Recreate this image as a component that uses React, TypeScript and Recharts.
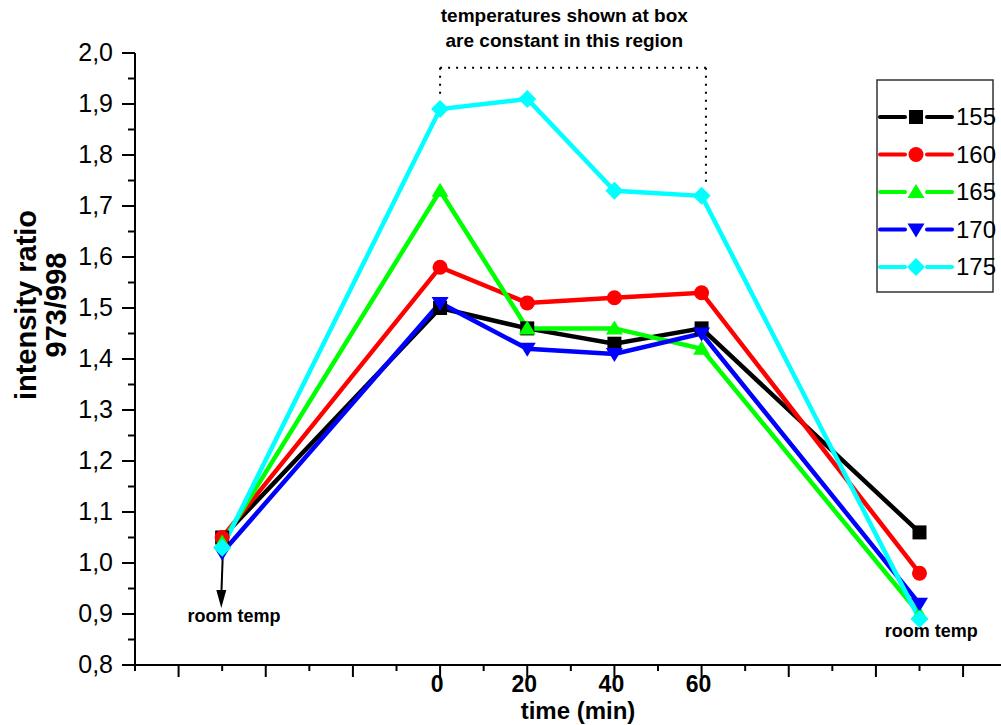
import React from 'react';
import {
  LineChart,
  Line,
  XAxis,
  YAxis,
  ReferenceLine,
  ReferenceDot,
} from 'recharts';

// time points (min); -50 and 110 stand for "room temp" before/after
const times = [-50, 0, 20, 40, 60, 110];
const s155 = [1.05, 1.5, 1.46, 1.43, 1.46, 1.06];
const s160 = [1.05, 1.58, 1.51, 1.52, 1.53, 0.98];
const s165 = [1.04, 1.73, 1.46, 1.46, 1.42, 0.9];
const s170 = [1.02, 1.51, 1.42, 1.41, 1.45, 0.92];
const s175 = [1.03, 1.89, 1.91, 1.73, 1.72, 0.89];

const xTicks = [-70, -60, -50, -40, -30, -20, -10, 0, 10, 20, 30, 40, 50, 60, 70, 80, 90, 100, 110, 120];
const xLabeled = [0, 20, 40, 60];
const yTicks = [0.8, 0.85, 0.9, 0.95, 1.0, 1.05, 1.1, 1.15, 1.2, 1.25, 1.3, 1.35, 1.4, 1.45, 1.5, 1.55, 1.6, 1.65, 1.7, 1.75, 1.8, 1.85, 1.9, 1.95, 2.0];

const FONT = '"Liberation Sans", Arial, sans-serif';

const series = [
  { key: 's155', name: '155', color: '#000000', shape: 'square', values: s155 },
  { key: 's160', name: '160', color: '#ff0000', shape: 'circle', values: s160 },
  { key: 's165', name: '165', color: '#00ff00', shape: 'up', values: s165 },
  { key: 's170', name: '170', color: '#0000ff', shape: 'down', values: s170 },
  { key: 's175', name: '175', color: '#00ffff', shape: 'diamond', values: s175 },
];

const data = times.map((t, i) => {
  const row: any = { t };
  series.forEach((s) => (row[s.key] = s.values[i]));
  return row;
});

function Marker({ shape, cx, cy, color }: { shape: string; cx: number; cy: number; color: string }) {
  switch (shape) {
    case 'square':
      return <rect x={cx - 7} y={cy - 7} width={14} height={14} fill={color} />;
    case 'circle':
      return <circle cx={cx} cy={cy} r={7.5} fill={color} />;
    case 'up':
      return <polygon points={`${cx},${cy - 8} ${cx + 8.5},${cy + 6} ${cx - 8.5},${cy + 6}`} fill={color} />;
    case 'down':
      return <polygon points={`${cx},${cy + 8} ${cx + 8.5},${cy - 6} ${cx - 8.5},${cy - 6}`} fill={color} />;
    default:
      return <polygon points={`${cx},${cy - 9} ${cx + 9},${cy} ${cx},${cy + 9} ${cx - 9},${cy}`} fill={color} />;
  }
}

const XTick = (props: any) => {
  const { x, y, payload } = props;
  const v = payload.value;
  const major = v % 20 === 0;
  return (
    <g>
      <line x1={x} y1={y} x2={x} y2={y + (major ? 12 : 6)} stroke="#000" strokeWidth={2} />
      {xLabeled.includes(v) && (
        <text x={x - 3} y={y + 27} textAnchor="middle" fontFamily={FONT} fontWeight="bold" fontSize={23} fill="#000">
          {v}
        </text>
      )}
    </g>
  );
};

const YTick = (props: any) => {
  const { x, y, payload } = props;
  const v = payload.value;
  const major = Math.round(v * 100) % 10 === 0;
  return (
    <g>
      <line x1={x - (major ? 13 : 7)} y1={y} x2={x} y2={y} stroke="#000" strokeWidth={2} />
      {major && (
        <text x={x - 22} y={y + 8} textAnchor="end" fontFamily={FONT} fontSize={25} fill="#000">
          {v.toFixed(1).replace('.', ',')}
        </text>
      )}
    </g>
  );
};

const YTitle = () => {
  const cy = 305;
  return (
    <g fontFamily={FONT} fontWeight="bold" fontSize={29} fill="#000">
      <text x={36} y={cy} transform={`rotate(-90 36 ${cy})`} textAnchor="middle">
        intensity ratio
      </text>
      <text x={66} y={cy} transform={`rotate(-90 66 ${cy})`} textAnchor="middle">
        973/998
      </text>
    </g>
  );
};

const XTitle = () => (
  <text x={578} y={719} textAnchor="middle" fontFamily={FONT} fontWeight="bold" fontSize={24} fill="#000">
    time (min)
  </text>
);

const Arrow = (props: any) => {
  const { x1, y1, x2, y2 } = props;
  return (
    <g>
      <line x1={x1} y1={y1} x2={x2} y2={y2 - 12} stroke="#000" strokeWidth={2} />
      <polygon points={`${x2},${y2} ${x2 - 5},${y2 - 18} ${x2 + 5},${y2 - 18}`} fill="#000" />
    </g>
  );
};

const textDot = (lines: string[], size: number, dy: number) => (props: any) => {
  const { cx, cy } = props;
  return (
    <g fontFamily={FONT} fontWeight="bold" fontSize={size} fill="#000">
      {lines.map((l, i) => (
        <text key={i} x={cx} y={cy + dy + i * 25} textAnchor="middle">
          {l}
        </text>
      ))}
    </g>
  );
};

function LegendBox() {
  return (
    <svg width={120} height={216} style={{ position: 'absolute', left: 876, top: 79 }}>
      <rect x={1} y={1} width={116} height={212} fill="#fff" stroke="#333" strokeWidth={1.5} />
      {series.map((s, i) => {
        const cy = 38 + i * 37.5;
        return (
          <g key={s.key}>
            <line x1={4} y1={cy} x2={29} y2={cy} stroke={s.color} strokeWidth={4} strokeLinecap="round" />
            <line x1={51} y1={cy} x2={76} y2={cy} stroke={s.color} strokeWidth={4} strokeLinecap="round" />
            <Marker shape={s.shape} cx={40} cy={cy} color={s.color} />
            <text x={80} y={cy + 8} fontFamily={FONT} fontSize={24} fill="#000">
              {s.name}
            </text>
          </g>
        );
      })}
    </svg>
  );
}

export default function App() {
  return (
    <div style={{ position: 'absolute', left: 0, top: 0, width: 1001, height: 725, background: '#fff' }}>
      <LineChart width={1001} height={725} data={data} margin={{ top: 53, right: 0, left: 0, bottom: 0 }}>
        <XAxis
          dataKey="t"
          type="number"
          domain={[-70, 128.7]}
          ticks={xTicks}
          tick={<XTick />}
          tickLine={false}
          tickSize={0}
          tickMargin={0}
          height={60}
          axisLine={{ stroke: '#000', strokeWidth: 2 }}
          allowDataOverflow
          interval={0}
          label={<XTitle />}
        />
        <YAxis
          type="number"
          domain={[0.8, 2.0]}
          ticks={yTicks}
          tick={<YTick />}
          tickLine={false}
          tickSize={0}
          tickMargin={0}
          width={135}
          axisLine={{ stroke: '#000', strokeWidth: 2 }}
          interval={0}
          label={<YTitle />}
        />
        {/* dotted box marking the constant temperature region */}
        <ReferenceLine segment={[{ x: 0, y: 1.971 }, { x: 61, y: 1.971 }]} stroke="#000" strokeWidth={2} strokeDasharray="2 6" />
        <ReferenceLine segment={[{ x: 0, y: 1.971 }, { x: 0, y: 1.912 }]} stroke="#000" strokeWidth={2} strokeDasharray="2 6" />
        <ReferenceLine segment={[{ x: 61, y: 1.971 }, { x: 61, y: 1.745 }]} stroke="#000" strokeWidth={2} strokeDasharray="2 6" />
        <ReferenceDot
          x={28.5}
          y={2.0}
          r={0}
          ifOverflow="visible"
          shape={textDot(['temperatures shown at box', 'are constant in this region'], 19, -31)}
        />
        <ReferenceLine segment={[{ x: -49.8, y: 1.03 }, { x: -50.2, y: 0.912 }]} shape={<Arrow />} />
        <ReferenceDot x={-47.3} y={0.884} r={0} shape={textDot(['room temp'], 18, 0)} />
        <ReferenceDot x={112.7} y={0.855} r={0} ifOverflow="visible" shape={textDot(['room temp'], 18, 0)} />
        {series.map((s) => (
          <Line
            key={s.key}
            dataKey={s.key}
            name={s.name}
            stroke={s.color}
            strokeWidth={4.5}
            isAnimationActive={false}
            dot={(p: any) => <Marker key={`${s.key}-${p.index}`} shape={s.shape} cx={p.cx} cy={p.cy} color={s.color} />}
            activeDot={false}
          />
        ))}
      </LineChart>
      <LegendBox />
    </div>
  );
}
